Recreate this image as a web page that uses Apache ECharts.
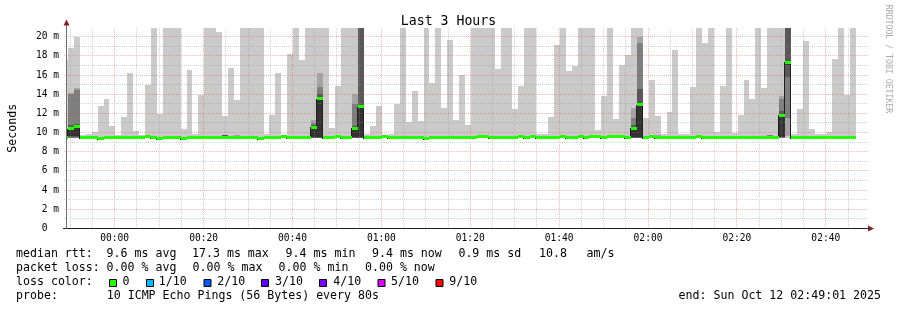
<!DOCTYPE html>
<html>
<head>
<meta charset="utf-8">
<script src="https://cdn.jsdelivr.net/npm/echarts@6/dist/echarts.min.js"></script>
<style>
html,body{margin:0;padding:0;background:#fff;}
#chart{width:897px;height:310px;}
</style>
</head>
<body>
<div id="chart"></div>
<script>
// ---------------- data ----------------
// time axis in minutes relative to 00:00 (one probe round every 80 s)
const stepMinutes = 80 / 60;
const firstStepStart = -11.84;          // start of the first (partly visible) step
const axisMinMinutes = -10.73;
const axisMaxMinutes = 169.27;
const xLabelMinutes = [0, 20, 40, 60, 80, 100, 120, 140, 160];
const yMaxMs = 20.9;

// largest ping of each step (ms); values above the chart top are clipped
const rttMax = [
  17.6, 18.8, 20.0, 9.7, 9.85, 10.05, 12.75, 13.55, 10.7, 9.7,
  11.65, 16.2, 10.15, 9.7, 14.95, 24, 11.9, 24, 24, 24,
  10.35, 16.5, 9.8, 13.9, 24, 24, 20.5, 11.75, 16.7, 13.4,
  24, 24, 24, 24, 9.85, 11.8, 16.2, 9.7, 18.2, 24,
  17.6, 24, 24, 24, 24, 10.5, 14.85, 24, 24, 24,
  24, 9.9, 10.7, 12.75, 9.65, 9.85, 13.0, 24, 11.1, 14.35,
  11.2, 24, 15.2, 24, 12.6, 19.65, 11.3, 16.0, 10.75, 24,
  24, 24, 24, 16.65, 24, 24, 12.45, 14.85, 24, 24,
  9.8, 9.8, 11.6, 19.15, 24, 16.45, 16.95, 24, 24, 24,
  10.3, 13.8, 24, 11.45, 17.05, 18.1, 24, 24, 11.5, 15.45,
  11.75, 9.9, 12.1, 18.6, 9.8, 9.85, 14.75, 24, 19.35, 24,
  10.05, 14.85, 24, 10.0, 11.8, 15.45, 13.45, 24, 14.6, 24,
  24, 24, 24, 9.8, 12.45, 19.5, 10.4, 9.85, 9.8, 10.05,
  17.65, 24, 13.95, 24
];

// median rtt of each step (ms)
const rttMedian = [
  9.5, 10.42, 10.6, 9.45, 9.45, 9.45, 9.36, 9.45, 9.45, 9.45,
  9.45, 9.45, 9.45, 9.45, 9.56, 9.45, 9.36, 9.45, 9.45, 9.45,
  9.36, 9.45, 9.45, 9.45, 9.45, 9.45, 9.45, 9.45, 9.45, 9.45,
  9.45, 9.45, 9.45, 9.36, 9.45, 9.45, 9.45, 9.56, 9.45, 9.45,
  9.45, 9.45, 10.55, 13.5, 9.45, 9.45, 9.56, 9.45, 9.45, 10.45,
  12.7, 9.45, 9.45, 9.45, 9.56, 9.45, 9.45, 9.45, 9.45, 9.45,
  9.45, 9.36, 9.45, 9.45, 9.45, 9.45, 9.45, 9.45, 9.45, 9.45,
  9.56, 9.56, 9.45, 9.45, 9.45, 9.45, 9.45, 9.56, 9.45, 9.56,
  9.45, 9.45, 9.45, 9.45, 9.56, 9.45, 9.45, 9.56, 9.45, 9.56,
  9.56, 9.45, 9.56, 9.56, 9.56, 9.45, 10.45, 12.9, 9.45, 9.56,
  9.45, 9.45, 9.45, 9.45, 9.45, 9.45, 9.45, 9.56, 9.45, 9.45,
  9.45, 9.45, 9.45, 9.45, 9.45, 9.45, 9.45, 9.45, 9.45, 9.45,
  9.45, 11.8, 17.35, 9.45, 9.45, 9.45, 9.45, 9.45, 9.45, 9.45,
  9.45, 9.45, 9.45, 9.45
];

// steps (indices into the arrays above) whose inner pings spread out; null = at the median
const smokeSteps = [1, 2, 27, 29, 42, 43, 49, 50, 96, 97, 100, 119, 121, 122];
const smokeP1 = [9.4, 9.4, null, null, 9.4, 9.4, 9.4, 9.4, 9.4, 9.4, null, null, 9.4, 9.45];
const smokeP2 = [9.45, 9.45, null, null, 9.42, 9.42, 9.42, 9.42, 9.42, 9.42, null, null, 9.45, 9.6];
const smokeP3 = [9.45, 9.45, null, null, 9.45, 9.45, 9.45, 9.45, 9.45, 9.45, null, null, 9.48, 11.5];
const smokeP4 = [9.5, 9.5, null, null, 9.48, 9.48, 9.48, 9.48, 9.48, 9.48, null, null, 9.5, 15.8];
const smokeP5 = [9.6, 9.6, null, null, 9.5, 9.5, 9.5, 9.5, 9.5, 9.5, null, null, 9.55, 17.0];
const smokeP7 = [10.75, 10.9, 9.72, null, 10.8, 14.0, 10.7, 23.0, 10.8, 14.5, null, null, 12.2, 23.0];
const smokeP8 = [14.0, 14.45, 9.74, null, 11.0, 14.7, 13.0, 23.5, 11.5, 19.3, null, 9.75, 13.5, 23.5];
const smokeP9 = [14.1, 14.6, 9.76, 9.72, 11.3, 16.2, 14.0, 23.8, 12.6, 20.0, 9.75, 9.78, 13.8, 23.8];

// legend text fields
const rttStats = ['9.6 ms avg', '17.3 ms max', '9.4 ms min', '9.4 ms now', '0.9 ms sd', '10.8', 'am/s'];
const lossStats = ['0.00 % avg', '0.00 % max', '0.00 % min', '0.00 % now'];
const lossLabels = ['0', '1/10', '2/10', '3/10', '4/10', '5/10', '9/10'];
const lossColors = ['#26ff00', '#00b8ff', '#0059ff', '#5e00ff', '#7e00ff', '#dd00ff', '#ff0000'];

// ---------------- build series data ----------------
function pick(arr, j, med) { return (j < 0 || arr[j] === null) ? med : arr[j]; }

const smokeData = rttMax.map((mx, i) => {
  const t0 = firstStepStart + i * stepMinutes;
  const med = rttMedian[i];
  const j = smokeSteps.indexOf(i);
  return [t0, t0 + stepMinutes,
    pick(smokeP1, j, med), pick(smokeP2, j, med), pick(smokeP3, j, med),
    pick(smokeP4, j, med), pick(smokeP5, j, med), med,
    pick(smokeP7, j, med), pick(smokeP8, j, med), pick(smokeP9, j, med), mx];
});
const medianData = rttMedian.map((med, i) => {
  const t0 = firstStepStart + i * stepMinutes;
  return [t0, t0 + stepMinutes, med, i > 0 ? rttMedian[i - 1] : med];
});

const vGridData = [];
for (let m = -10; m <= 165; m += 5) vGridData.push([m, m % 20 === 0 ? 1 : 0]);
const hGridData = [];
for (let v = 1; v <= 20; v++) hGridData.push([v, v % 2 === 0 ? 1 : 0]);

// ---------------- styles ----------------
const MONO = '"DejaVu Sans Mono", "Liberation Mono", monospace';
const GRID_COL = 'rgba(150,150,150,0.42)';
const MGRID_COL = 'rgba(235,60,60,0.36)';
const SMOKE_COLORS = ['#cacaca', '#a4a4a4', '#7e7e7e', '#585858', '#323232'];
const LOSS0 = '#26ff00';

function csRect(cs) { return {x: cs.x, y: cs.y, width: cs.width, height: cs.height}; }

function renderSmoke(params, api) {
  const cs = params.coordSys;
  const x0 = Math.round(api.coord([api.value(0), 0])[0]);
  const x1 = Math.round(api.coord([api.value(1), 0])[0]);
  const children = [];
  for (let l = 0; l < 5; l++) {
    const lo = api.value(2 + l), hi = api.value(11 - l);
    const yl = Math.round(api.coord([0, lo])[1]);
    const yh = Math.round(api.coord([0, hi])[1]);
    if (yl - yh < 1) continue;
    const r = echarts.graphic.clipRectByRect({x: x0, y: yh, width: x1 - x0, height: yl - yh}, csRect(cs));
    if (r) children.push({type: 'rect', shape: r, style: {fill: SMOKE_COLORS[l]}});
  }
  return {type: 'group', children};
}

function renderConnector(params, api) {
  const cs = params.coordSys;
  const x = Math.round(api.coord([api.value(0), 0])[0]) - 1;
  const y1 = api.coord([0, api.value(2)])[1];
  const y2 = api.coord([0, api.value(3)])[1];
  const top = Math.round(Math.min(y1, y2)), bot = Math.round(Math.max(y1, y2));
  if (bot - top < 1) return null;
  const r = echarts.graphic.clipRectByRect({x: x, y: top, width: 1, height: bot - top + 1}, csRect(cs));
  return r ? {type: 'rect', shape: r, style: {fill: '#202020'}} : null;
}

function renderBand(params, api) {
  const cs = params.coordSys;
  const x0 = Math.round(api.coord([api.value(0), 0])[0]);
  const x1 = Math.round(api.coord([api.value(1), 0])[0]);
  const yc = api.coord([0, api.value(2)])[1];
  const r = echarts.graphic.clipRectByRect({x: x0, y: Math.round(yc - 1.5), width: x1 - x0, height: 3}, csRect(cs));
  return r ? {type: 'rect', shape: r, style: {fill: LOSS0}} : null;
}

function renderVGrid(params, api) {
  const cs = params.coordSys;
  const x = Math.floor(api.coord([api.value(0), 0])[0]) + 0.5;
  return {type: 'line', shape: {x1: x, y1: cs.y, x2: x, y2: cs.y + cs.height},
    style: {stroke: api.value(1) === 1 ? MGRID_COL : GRID_COL, lineWidth: 1, lineDash: [1, 1]}};
}
function renderHGrid(params, api) {
  const cs = params.coordSys;
  const y = Math.floor(api.coord([0, api.value(0)])[1]) + 0.5;
  return {type: 'line', shape: {x1: cs.x - 3, y1: y, x2: cs.x + cs.width, y2: y},
    style: {stroke: api.value(1) === 1 ? MGRID_COL : GRID_COL, lineWidth: 1, lineDash: [1, 1]}};
}

function toClock(m) {
  const t = ((Math.round(m) % 1440) + 1440) % 1440;
  return String(Math.floor(t / 60)).padStart(2, '0') + ':' + String(t % 60).padStart(2, '0');
}

// ---------------- legend layout ----------------
const legendFont = '11.6px ' + MONO;
const rttStatX = [106.6, 192, 285.6, 372, 458.4, 539, 586.5];
const lossStatX = [106.6, 192.6, 278.6, 365];
const lossBoxX = [109, 146, 203.5, 261, 319, 377.5, 435.5];
const lossLabelX = [122.5, 158.8, 217.3, 275, 333.3, 391, 449.2];

function legendText(x, y, text, extra) {
  return {type: 'text', x: x, y: y, style: Object.assign({text: text, font: legendFont, fill: '#000', verticalAlign: 'middle'}, extra || {})};
}

const graphics = [
  // axis lines and arrows
  {type: 'rect', shape: {x: 63, y: 228, width: 805, height: 1}, style: {fill: '#1f1f1f'}, z: 50},
  {type: 'rect', shape: {x: 66, y: 24, width: 1, height: 205}, style: {fill: '#6f6f6f'}, z: 50},
  {type: 'polygon', shape: {points: [[66.5, 19.5], [63.5, 25.5], [69.5, 25.5]]}, style: {fill: '#7f1f1f'}, z: 51},
  {type: 'polygon', shape: {points: [[868, 225.5], [868, 231.5], [874, 228.5]]}, style: {fill: '#7f1f1f'}, z: 51},
  // credit
  {type: 'text', x: 888, y: 59, rotation: -Math.PI / 2,
    style: {text: 'RRDTOOL / TOBI OETIKER', font: '8.2px ' + MONO, fill: '#aaaaaa', align: 'center', verticalAlign: 'middle'}},
  legendText(16, 254, 'median rtt:'),
  legendText(16, 268.3, 'packet loss:'),
  legendText(16, 282, 'loss color:'),
  legendText(16, 296.3, 'probe:       10 ICMP Echo Pings (56 Bytes) every 80s'),
  legendText(881, 296.3, 'end: Sun Oct 12 02:49:01 2025', {align: 'right'})
];
rttStats.forEach((t, i) => graphics.push(legendText(rttStatX[i], 254, t)));
lossStats.forEach((t, i) => graphics.push(legendText(lossStatX[i], 268.3, t)));
lossLabels.forEach((t, i) => {
  graphics.push({type: 'rect', shape: {x: lossBoxX[i] + 0.5, y: 279.5, width: 7, height: 7}, style: {fill: lossColors[i], stroke: '#000', lineWidth: 1}});
  graphics.push(legendText(lossLabelX[i], 282, t));
});

const chart = echarts.init(document.getElementById('chart'), null, {renderer: 'canvas'});
chart.setOption({
  animation: false,
  backgroundColor: '#ffffff',
  title: {
    text: 'Last 3 Hours', left: 'center', top: 10,
    textStyle: {fontFamily: MONO, fontSize: 13.2, fontWeight: 'normal', color: '#000'}
  },
  grid: {left: 67, top: 28, width: 800, height: 200.5, containLabel: false, outerBoundsMode: 'none'},
  xAxis: {
    type: 'value', min: axisMinMinutes, max: axisMaxMinutes,
    axisLine: {show: false}, axisTick: {show: false}, splitLine: {show: false},
    axisLabel: {customValues: xLabelMinutes, formatter: toClock, margin: 5,
      fontFamily: MONO, fontSize: 9.6, color: '#000'}
  },
  yAxis: {
    type: 'value', min: 0, max: yMaxMs, interval: 2,
    name: 'Seconds', nameLocation: 'middle', nameGap: 48, nameRotate: 90,
    nameTextStyle: {fontFamily: MONO, fontSize: 11.6, color: '#000'},
    axisLine: {show: false}, axisTick: {show: false}, splitLine: {show: false},
    axisLabel: {
      margin: 8, fontFamily: MONO, fontSize: 9.6, color: '#000',
      formatter: v => (Math.abs(v / 2 - Math.round(v / 2)) > 1e-6) ? '' : (v === 0 ? '0  ' : Math.round(v) + ' m')
    }
  },
  graphic: graphics,
  series: [
    {type: 'custom', name: 'smoke', renderItem: renderSmoke, data: smokeData, z: 2,
      encode: {x: [0, 1], y: [2, 11]}, silent: true},
    {type: 'custom', name: 'vgrid', renderItem: renderVGrid, data: vGridData, z: 3, encode: {x: 0}, silent: true},
    {type: 'custom', name: 'hgrid', renderItem: renderHGrid, data: hGridData, z: 3, encode: {y: 0}, silent: true},
    {type: 'custom', name: 'median line', renderItem: renderConnector, data: medianData, z: 4,
      encode: {x: 0, y: [2, 3]}, silent: true},
    {type: 'custom', name: 'median rtt', renderItem: renderBand, data: medianData, z: 5,
      encode: {x: [0, 1], y: 2}, silent: true}
  ]
});
</script>
</body>
</html>
